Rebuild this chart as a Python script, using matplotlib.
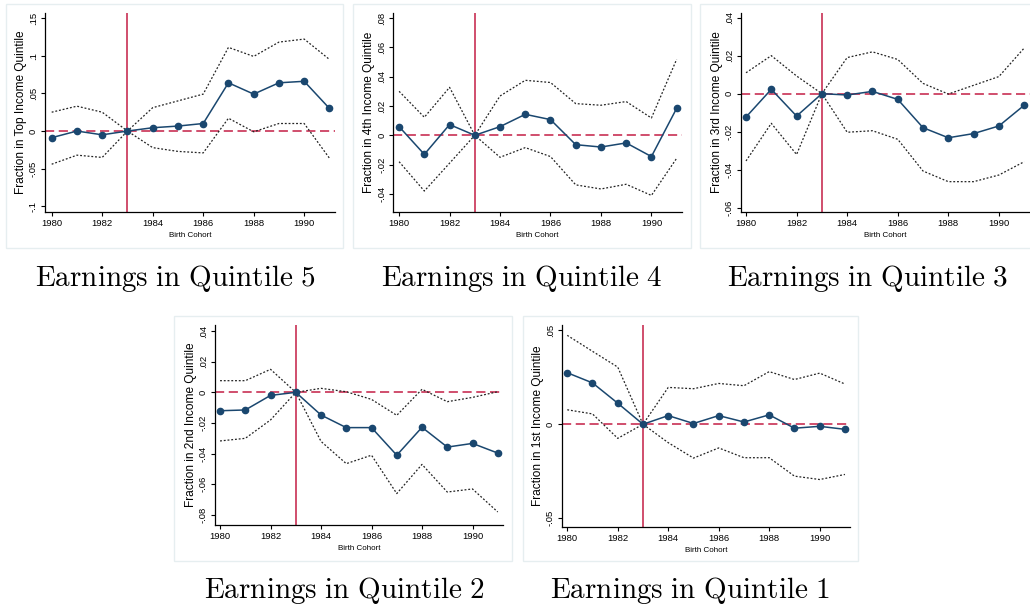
import matplotlib
matplotlib.use("Agg")
import matplotlib.pyplot as plt
from matplotlib.patches import Rectangle

plt.rcParams['font.family'] = ['Liberation Sans', 'DejaVu Sans']
plt.rcParams['mathtext.fontset'] = 'cm'

years = list(range(1980, 1992))

# Quintile 5 (Top)
q5_est = [-0.0088, 0.0, -0.005, 0.0, 0.0044, 0.0066, 0.010, 0.064, 0.049, 0.064, 0.066, 0.030]
q5_hi = [0.025, 0.033, 0.025, 0.0, 0.031, 0.040, 0.049, 0.111, 0.099, 0.118, 0.122, 0.095]
q5_lo = [-0.044, -0.032, -0.035, 0.0, -0.022, -0.027, -0.029, 0.017, -0.001, 0.010, 0.010, -0.036]

# Quintile 4
q4_est = [0.0059, -0.013, 0.0073, 0.0, 0.0059, 0.0143, 0.0107, -0.0064, -0.008, -0.0052, -0.0145, 0.0184]
q4_hi = [0.030, 0.0123, 0.0327, 0.0, 0.0268, 0.0375, 0.036, 0.0216, 0.0205, 0.023, 0.0118, 0.0518]
q4_lo = [-0.018, -0.038, -0.019, 0.0, -0.015, -0.0084, -0.0145, -0.0338, -0.0366, -0.0334, -0.041, -0.0157]

# Quintile 3
q3_est = [-0.0123, 0.0023, -0.0118, 0.0, -0.0007, 0.0012, -0.003, -0.0179, -0.0232, -0.021, -0.017, -0.0061]
q3_hi = [0.011, 0.020, 0.0093, 0.0, 0.019, 0.022, 0.018, 0.0054, -0.0002, 0.0044, 0.009, 0.024]
q3_lo = [-0.0354, -0.0156, -0.032, 0.0, -0.0203, -0.0195, -0.024, -0.0407, -0.0463, -0.0463, -0.0428, -0.0358]

# Quintile 2
q2_est = [-0.012, -0.0115, -0.002, 0.0, -0.0148, -0.023, -0.023, -0.041, -0.0228, -0.0357, -0.0333, -0.0396]
q2_hi = [0.0076, 0.0076, 0.015, 0.0, 0.0026, 0.0004, -0.0046, -0.015, 0.002, -0.0061, -0.0033, 0.0004]
q2_lo = [-0.0317, -0.030, -0.018, 0.0, -0.032, -0.0465, -0.041, -0.066, -0.047, -0.065, -0.063, -0.078]

# Quintile 1
q1_est = [0.0274, 0.022, 0.0112, 0.0, 0.0046, 0.0004, 0.0046, 0.0012, 0.005, -0.0021, -0.0011, -0.0027]
q1_hi = [0.0473, 0.0388, 0.0304, 0.0, 0.0196, 0.0189, 0.0217, 0.0205, 0.028, 0.0238, 0.0272, 0.0214]
q1_lo = [0.0077, 0.0055, -0.0075, 0.0, -0.0098, -0.018, -0.0126, -0.0178, -0.0178, -0.0276, -0.0294, -0.0267]

ylabels = ["Fraction in Top Income Quintile", "Fraction in 4th Income Quintile",
           "Fraction in 3rd Income Quintile", "Fraction in 2nd Income Quintile",
           "Fraction in 1st Income Quintile"]
titles = ["Earnings in Quintile 5", "Earnings in Quintile 4", "Earnings in Quintile 3",
          "Earnings in Quintile 2", "Earnings in Quintile 1"]
yticks = [[-0.1, -0.05, 0, 0.05, 0.1, 0.15],
          [-0.04, -0.02, 0, 0.02, 0.04, 0.06, 0.08],
          [-0.06, -0.04, -0.02, 0, 0.02, 0.04],
          [-0.08, -0.06, -0.04, -0.02, 0, 0.02, 0.04],
          [-0.05, 0, 0.05]]
yticklabels = [["-.1", "-.05", "0", ".05", ".1", ".15"],
               ["-.04", "-.02", "0", ".02", ".04", ".06", ".08"],
               ["-.06", "-.04", "-.02", "0", ".02", ".04"],
               ["-.08", "-.06", "-.04", "-.02", "0", ".02", ".04"],
               ["-.05", "0", ".05"]]
xticks = [1980, 1982, 1984, 1986, 1988, 1990]
event_year = 1983

series = [(q5_est, q5_hi, q5_lo), (q4_est, q4_hi, q4_lo), (q3_est, q3_hi, q3_lo),
          (q2_est, q2_hi, q2_lo), (q1_est, q1_hi, q1_lo)]

W, H = 1030, 610
fig = plt.figure(figsize=(W / 100, H / 100), dpi=100)
fig.patch.set_facecolor('white')

# layout in pixels: panel box (x0,y0,x1,y1), axes box (x0,y0,x1,y1), xlim, ylim, title center (x,y)
layout = [
    dict(panel=(6, 4, 343, 248), ax=(45, 12.7, 335, 211.7), xlim=(1979.735, 1991.22), ylim=(-0.107, 0.157), title=(175, 279)),
    dict(panel=(353, 4, 691, 248), ax=(393.3, 12.7, 681.7, 211.7), xlim=(1979.77, 1991.2), ylim=(-0.0521, 0.0836), title=(522, 279)),
    dict(panel=(700, 4, 1036, 248), ax=(740.7, 12.7, 1030, 211.7), xlim=(1979.79, 1991.23), ylim=(-0.0621, 0.0426), title=(868, 279)),
    dict(panel=(174, 316, 512, 561), ax=(215, 325, 503.3, 525), xlim=(1979.8, 1991.22), ylim=(-0.0865, 0.0439), title=(344, 590)),
    dict(panel=(523, 316, 858, 561), ax=(561.7, 325, 850, 526.7), xlim=(1979.78, 1991.2), ylim=(-0.0545, 0.0528), title=(690, 590)),
]

navy = '#1a476f'
red = '#c41e45'
border = '#e6eef0'

for i, lay in enumerate(layout):
    px0, py0, px1, py1 = lay['panel']
    fig.add_artist(Rectangle((px0 / W, 1 - py1 / H), (px1 - px0) / W, (py1 - py0) / H,
                             transform=fig.transFigure, facecolor='white', edgecolor=border,
                             linewidth=1.0, zorder=0))
    ax0, ay0, ax1, ay1 = lay['ax']
    ax = fig.add_axes([ax0 / W, 1 - ay1 / H, (ax1 - ax0) / W, (ay1 - ay0) / H])
    ax.set_facecolor('none')
    est, hi, lo = series[i]
    ax.axvline(event_year, color=red, lw=1.1, zorder=1)
    ax.axhline(0, color=red, lw=1.1, ls=(0, (6, 3)), zorder=1)
    ax.plot(years, hi, color='#222222', lw=0.9, ls=(0, (1.5, 1.5)), zorder=2)
    ax.plot(years, lo, color='#222222', lw=0.9, ls=(0, (1.5, 1.5)), zorder=2)
    ax.plot(years, est, color=navy, lw=1.1, marker='o', markersize=4.5, zorder=3)
    ax.set_xlim(*lay['xlim'])
    ax.set_ylim(*lay['ylim'])
    ax.set_xticks(xticks)
    ax.set_xticklabels([str(x) for x in xticks], fontsize=6.8)
    ax.set_yticks(yticks[i])
    ax.set_yticklabels(yticklabels[i], fontsize=6.8, rotation=90, va='center')
    ax.tick_params(axis='both', direction='out', length=3, width=0.8, pad=2, colors='black')
    for s in ['top', 'right']:
        ax.spines[s].set_visible(False)
    for s in ['left', 'bottom']:
        ax.spines[s].set_linewidth(0.9)
    ax.set_ylabel(ylabels[i], fontsize=8.6, labelpad=1.5)
    ax.set_xlabel("Birth Cohort", fontsize=5.8, labelpad=3)
    tx, ty = lay['title']
    fig.text(tx / W, 1 - ty / H, r'$\mathrm{' + titles[i].replace(' ', r'\ ') + '}$',
             ha='center', va='center', fontsize=21)

fig.savefig('out.png', dpi=100, facecolor='white')
